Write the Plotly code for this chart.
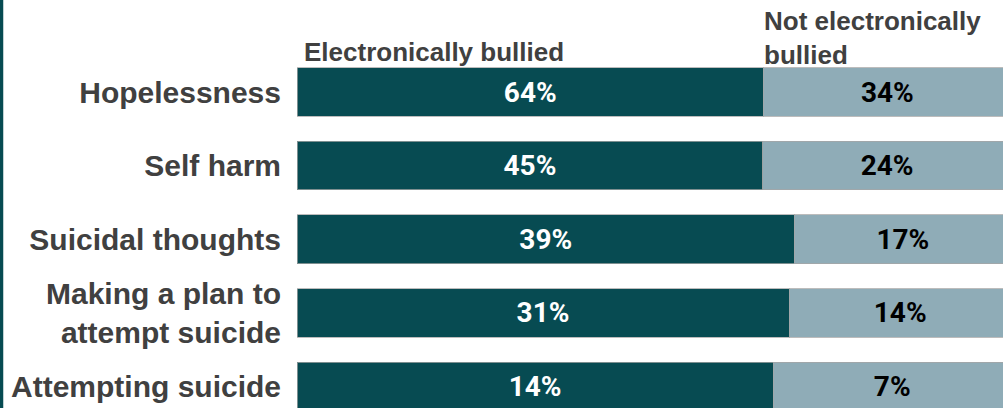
import plotly.graph_objects as go

# Share of students reporting each outcome, by electronic-bullying status
categories = [
    "Hopelessness",
    "Self harm",
    "Suicidal thoughts",
    "Making a plan to<br>attempt suicide",
    "Attempting suicide",
]
bullied = [64, 45, 39, 31, 14]
not_bullied = [34, 24, 17, 14, 7]

bullied_labels = [f"{v}%" for v in bullied]
not_bullied_labels = [f"{v}%" for v in not_bullied]

DARK = "#074b52"
LIGHT = "#8facb7"
LABEL_GREY = "#404040"
EDGE = "rgba(165,165,165,0.75)"

fig = go.Figure()

fig.add_trace(go.Bar(
    y=categories,
    x=bullied,
    orientation="h",
    name="Electronically bullied",
    marker=dict(color=DARK, line=dict(color=EDGE, width=1)),
    text=bullied_labels,
    texttemplate="%{text}",
    textposition="inside",
    insidetextanchor="middle",
    insidetextfont=dict(family="Roboto", size=28, color="white", weight="bold"),
    hoverinfo="skip",
))

fig.add_trace(go.Bar(
    y=categories,
    x=not_bullied,
    orientation="h",
    name="Not electronically bullied",
    marker=dict(color=LIGHT, line=dict(color=EDGE, width=1)),
    text=not_bullied_labels,
    texttemplate="%{text}",
    textposition="inside",
    insidetextanchor="middle",
    insidetextfont=dict(family="Roboto", size=28, color="black", weight="bold"),
    hoverinfo="skip",
))

# Split point of the first row, used to place the right-hand heading
first_split = 100 * bullied[0] / (bullied[0] + not_bullied[0])

fig.update_layout(
    width=1003,
    height=408,
    margin=dict(l=297, r=0, t=0, b=0),
    paper_bgcolor="white",
    plot_bgcolor="white",
    barmode="stack",
    barnorm="percent",
    bargap=0.34,
    showlegend=False,
    uniformtext=dict(mode="show", minsize=10),
    xaxis=dict(
        range=[0, 98.84],
        visible=False,
        fixedrange=True,
    ),
    yaxis=dict(
        categoryorder="array",
        categoryarray=categories,
        range=[4.293, -1.25],
        showgrid=False,
        zeroline=False,
        showline=False,
        ticks="",
        ticklabelstandoff=15,
        tickfont=dict(family="Liberation Sans", size=30, color=LABEL_GREY, weight="bold"),
        fixedrange=True,
    ),
    annotations=[
        dict(
            text="Electronically bullied",
            xref="x", yref="paper",
            x=0, y=1 - 52 / 408,
            xanchor="left", yanchor="middle",
            xshift=5,
            showarrow=False,
            font=dict(family="Liberation Sans", size=26, color=LABEL_GREY, weight="bold"),
        ),
        dict(
            text="Not electronically<br>bullied",
            xref="x", yref="paper",
            x=first_split, y=1 - 38 / 408,
            xanchor="left", yanchor="middle",
            align="left",
            xshift=-1,
            showarrow=False,
            font=dict(family="Liberation Sans", size=26, color=LABEL_GREY, weight="bold"),
        ),
    ],
    shapes=[
        # Accent rule down the left edge of the page
        dict(
            type="line",
            xref="paper", yref="paper",
            x0=-295.5 / 706, x1=-295.5 / 706,
            y0=0, y1=1,
            line=dict(color=DARK, width=3.5),
        ),
    ],
)

fig.write_html("out.html")
